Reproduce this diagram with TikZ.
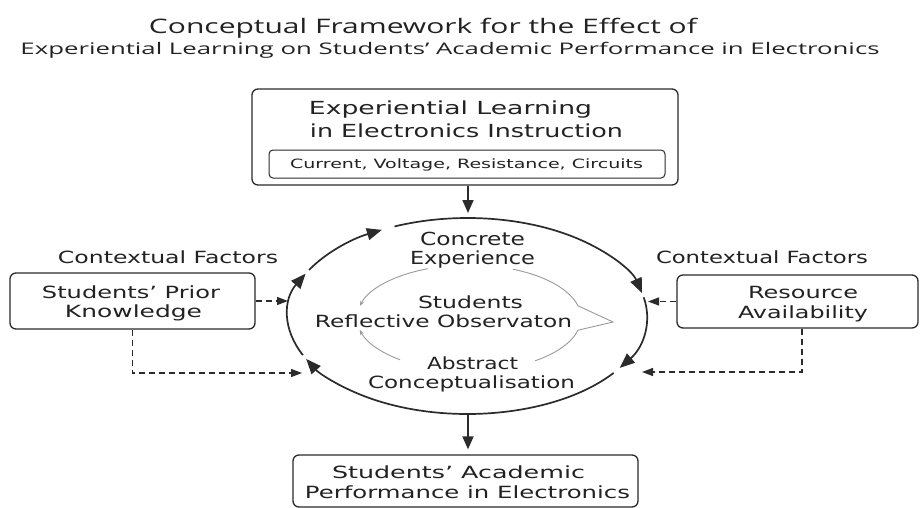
\documentclass[tikz,border=0pt]{standalone}
\usepackage{fontspec}
\usepackage{graphicx}
\setmainfont{DejaVu Sans}
\newfontfamily\titlefont{Open Sans}
\usetikzlibrary{arrows.meta}

% stretch a line of text to a given width, keeping its height
\newcommand\fitw[2]{\resizebox{#1pt}{\height}{#2}}

\definecolor{ink}{HTML}{222222}
\definecolor{rule}{HTML}{2B2B2B}
\definecolor{soft}{HTML}{9A9A9A}

\begin{document}
\begin{tikzpicture}[x=1pt,y=-1pt,
  lbl/.style={inner sep=0pt, anchor=base, text=ink},
  big/.style={font=\fontsize{18}{22}\selectfont},
  mid/.style={font=\fontsize{16.8}{20}\selectfont},
  frame/.style={draw=rule, line width=1.3pt, rounded corners=6pt, inner sep=0pt},
  cyc/.style={draw=rule, line width=1.7pt, -{Triangle[length=15pt,width=12pt]}},
  flow/.style={draw=rule, line width=1.7pt, -{Triangle[length=13pt,width=11pt]}},
  ctx/.style={draw=rule, line width=1.3pt, dash pattern=on 6pt off 4pt, -{Triangle[length=11pt,width=8pt]}},
  inner/.style={draw=soft, line width=0.9pt},
  innerarr/.style={inner, -{Stealth[length=5pt,width=4pt]}},
]
\useasboundingbox[fill=white] (0,0) rectangle (923,508);

% ---- title ----
\node[lbl, font=\titlefont\fontsize{20}{24}\selectfont] (ttl1) at (423,34)
  {\fitw{548}{Conceptual Framework for the Effect of}};
\node[lbl, font=\titlefont\fontsize{16}{20}\selectfont] (ttl2) at (450,55)
  {\fitw{859}{Experiential Learning on Students’ Academic Performance in Electronics}};

% ---- input box ----
\node[frame, minimum width=426pt, minimum height=96pt] (top) at (465,137) {};
\node[lbl, big] (el1) at (450.5,115) {\fitw{283}{Experiential Learning}};
\node[lbl, big] (el2) at (466.5,137) {\fitw{313}{in Electronics Instruction}};
\node[frame, rounded corners=4pt, line width=1pt, minimum width=396pt, minimum height=28pt] (topics) at (467,164) {};
\node[lbl, font=\fontsize{12.8}{15}\selectfont] (cur) at (466.5,168) {\fitw{353}{Current, Voltage, Resistance, Circuits}};

% ---- learning cycle ----
\coordinate (cyc) at (467.5,316);
\coordinate (inTip) at (468,213);
\coordinate (cycBot) at (468,414);

\draw[cyc] ([shift={(-114:179.5 and 98)}]cyc) arc[start angle=-114, end angle=-13.5, x radius=179.5, y radius=98];
\draw[cyc] ([shift={(-11:179.5 and 98)}]cyc) arc[start angle=-11, end angle=32, x radius=179.5, y radius=98];
\draw[cyc] ([shift={(35.5:179.5 and 98)}]cyc) arc[start angle=35.5, end angle=154, x radius=179.5, y radius=98];
\draw[cyc] ([shift={(156.5:179.5 and 98)}]cyc) arc[start angle=156.5, end angle=205.6, x radius=179.5, y radius=98];
\draw[cyc] ([shift={(208:179.5 and 98)}]cyc) arc[start angle=208, end angle=241.5, x radius=179.5, y radius=98];

% inner reflection loop
\coordinate (ic) at (469,318);
\coordinate (ipt) at (613,322);
\draw[innerarr] ([shift={(-111.5:112 and 53)}]ic) arc[start angle=-111.5, end angle=-166.7, x radius=112, y radius=53];
\draw[innerarr] ([shift={(128:112 and 53)}]ic) arc[start angle=128, end angle=167, x radius=112, y radius=53];
\draw[inner] ([shift={(-66.9:112 and 53)}]ic) arc[start angle=-66.9, end angle=-13.3, x radius=112, y radius=53]
  -- (ipt) -- ([shift={(13.3:112 and 53)}]ic) arc[start angle=13.3, end angle=53.9, x radius=112, y radius=53];

\node[lbl, big] (ce1) at (472.5,245) {\fitw{105}{Concrete}};
\node[lbl, big] (ce2) at (472.5,264) {\fitw{125}{Experience}};
\node[lbl, mid] (ro1) at (470.5,308) {\fitw{105}{Students}};
\node[lbl, mid] (ro2) at (443.5,327) {\fitw{257}{Reflective Observaton}};
\node[lbl, mid] (ac1) at (472.5,369) {\fitw{91}{Abstract}};
\node[lbl, mid] (ac2) at (471.5,388) {\fitw{207}{Conceptualisation}};

% ---- outcome box ----
\node[frame, minimum width=345pt, minimum height=52pt] (perf) at (465.5,481) {};
\node[lbl, mid] (ap1) at (458.5,478) {\fitw{253}{Students’ Academic}};
\node[lbl, mid] (ap2) at (467.5,498) {\fitw{325}{Performance in Electronics}};

\draw[flow] (top.south -| inTip) -- (inTip);
\draw[flow, shorten >=5pt] (cycBot) -- (perf.north -| cycBot);

% ---- contextual factors ----
\node[lbl, mid] (cfl) at (168,263) {\fitw{220}{Contextual Factors}};
\node[frame, minimum width=245pt, minimum height=56pt] (prior) at (132.5,301) {};
\node[lbl, mid] (pk1) at (131,298) {\fitw{178}{Students’ Prior}};
\node[lbl, mid] (pk2) at (133.5,317) {\fitw{137}{Knowledge}};

\node[lbl, mid] (cfr) at (762,263) {\fitw{212}{Contextual Factors}};
\node[frame, minimum width=241pt, minimum height=53pt] (res) at (797.5,301.5) {};
\node[lbl, mid] (ra1) at (803,298) {\fitw{110}{Resource}};
\node[lbl, mid] (ra2) at (803,318) {\fitw{130}{Availability}};

\coordinate (lTip1) at (288,301);
\coordinate (lTip2) at (302,373);
\coordinate (rTip1) at (648,301.5);
\coordinate (rTip2) at (642,372);
\draw[ctx] (prior.east) -- (lTip1);
\draw[ctx] (prior.south) |- (lTip2);
\draw[ctx] (res.west) -- (rTip1);
\draw[ctx] ([xshift=4.5pt]res.south) |- (rTip2);
\end{tikzpicture}
\end{document}
